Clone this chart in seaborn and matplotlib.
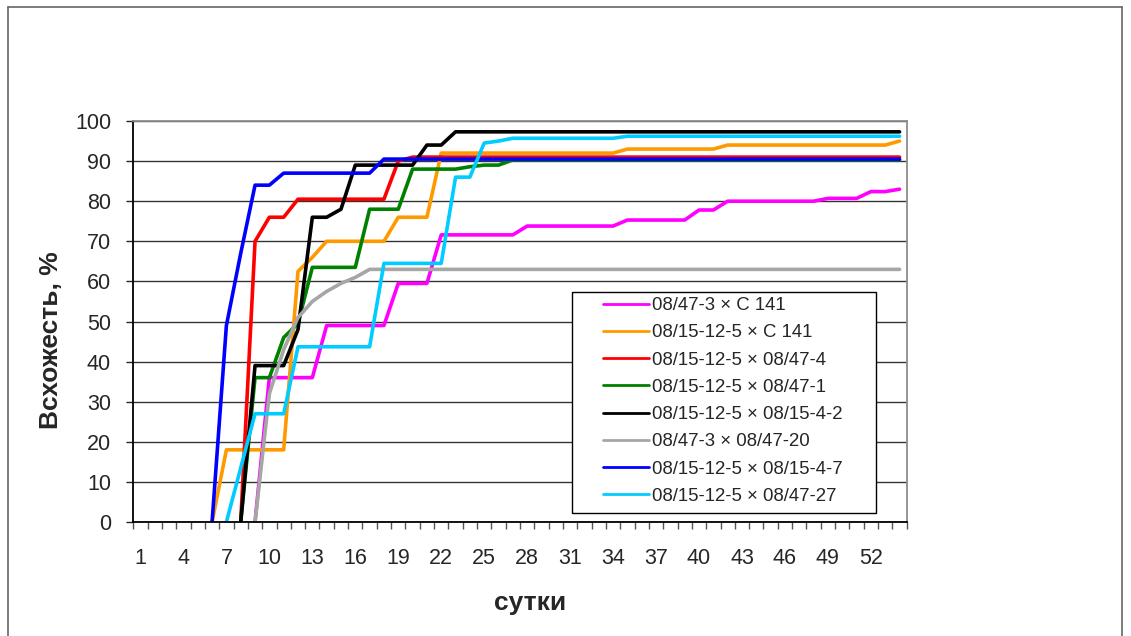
import matplotlib
matplotlib.use("Agg")
import matplotlib.pyplot as plt
import seaborn as sns
import pandas as pd
import numpy as np
from matplotlib.patches import Rectangle
from matplotlib.lines import Line2D

nan = np.nan

# Emergence (%) by day, eight crosses
days = list(range(1, 55))
xtick_days = [1, 4, 7, 10, 13, 16, 19, 22, 25, 28, 31, 34, 37, 40, 43, 46, 49, 52]

crosses = [
    "08/47-3 × C 141",
    "08/15-12-5 × C 141",
    "08/15-12-5 × 08/47-4",
    "08/15-12-5 × 08/47-1",
    "08/15-12-5 × 08/15-4-2",
    "08/47-3 × 08/47-20",
    "08/15-12-5 × 08/15-4-7",
    "08/15-12-5 × 08/47-27",
]
colors = ["#FF00FF", "#FF9900", "#FF0000", "#008000", "#000000", "#A6A6A6", "#0000FF", "#00CCFF"]

magenta = [nan, nan, nan, nan, nan, nan, nan, nan, 0, 36,
           36, 36, 36, 49, 49, 49, 49, 49, 59.5, 59.5,
           59.5, 71.6, 71.6, 71.6, 71.6, 71.6, 71.6, 73.8, 73.8, 73.8,
           73.8, 73.8, 73.8, 73.8, 75.3, 75.3, 75.3, 75.3, 75.3, 77.8,
           77.8, 80, 80, 80, 80, 80, 80, 80, 80.7, 80.7,
           80.7, 82.4, 82.4, 83]
orange = [nan, nan, nan, nan, nan, 0, 18, 18, 18, 18,
          18, 62.5, 66, 70, 70, 70, 70, 70, 76, 76,
          76, 92, 92, 92, 92, 92, 92, 92, 92, 92,
          92, 92, 92, 92, 93, 93, 93, 93, 93, 93,
          93, 94, 94, 94, 94, 94, 94, 94, 94, 94,
          94, 94, 94, 95]
red = [nan, nan, nan, nan, nan, nan, nan, 0, 70, 76,
       76, 80.5, 80.5, 80.5, 80.5, 80.5, 80.5, 80.5, 90, 91,
       91, 91, 91, 91, 91, 91, 91, 91, 91, 91,
       91, 91, 91, 91, 91, 91, 91, 91, 91, 91,
       91, 91, 91, 91, 91, 91, 91, 91, 91, 91,
       91, 91, 91, 91]
green = [nan, nan, nan, nan, nan, nan, nan, 0, 36, 36,
         46, 49.5, 63.5, 63.5, 63.5, 63.5, 78, 78, 78, 88,
         88, 88, 88, 88.6, 89, 89, 90.3, 90.3, 90.3, 90.3,
         90.3, 90.3, 90.3, 90.3, 90.3, 90.3, 90.3, 90.3, 90.3, 90.3,
         90.3, 90.3, 90.3, 90.3, 90.3, 90.3, 90.3, 90.3, 90.3, 90.3,
         90.3, 90.3, 90.3, 90.3]
black = [nan, nan, nan, nan, nan, nan, nan, 0, 39, 39,
         39, 48, 76, 76, 78, 89, 89, 89, 89, 89,
         94, 94, 97.3, 97.3, 97.3, 97.3, 97.3, 97.3, 97.3, 97.3,
         97.3, 97.3, 97.3, 97.3, 97.3, 97.3, 97.3, 97.3, 97.3, 97.3,
         97.3, 97.3, 97.3, 97.3, 97.3, 97.3, 97.3, 97.3, 97.3, 97.3,
         97.3, 97.3, 97.3, 97.3]
gray = [nan, nan, nan, nan, nan, nan, nan, nan, 0, 32,
        43, 51, 55, 57.5, 59.5, 61, 63, 63, 63, 63,
        63, 63, 63, 63, 63, 63, 63, 63, 63, 63,
        63, 63, 63, 63, 63, 63, 63, 63, 63, 63,
        63, 63, 63, 63, 63, 63, 63, 63, 63, 63,
        63, 63, 63, 63]
blue = [nan, nan, nan, nan, nan, 0, 49, 67, 84, 84,
        87, 87, 87, 87, 87, 87, 87, 90.5, 90.5, 90.5,
        90.5, 90.5, 90.5, 90.5, 90.5, 90.5, 90.5, 90.5, 90.5, 90.5,
        90.5, 90.5, 90.5, 90.5, 90.5, 90.5, 90.5, 90.5, 90.5, 90.5,
        90.5, 90.5, 90.5, 90.5, 90.5, 90.5, 90.5, 90.5, 90.5, 90.5,
        90.5, 90.5, 90.5, 90.5]
cyan = [nan, nan, nan, nan, nan, nan, 0, 13.5, 27, 27,
        27, 43.7, 43.7, 43.7, 43.7, 43.7, 43.7, 64.5, 64.5, 64.5,
        64.5, 64.5, 86, 86, 94.5, 95, 95.7, 95.7, 95.7, 95.7,
        95.7, 95.7, 95.7, 95.7, 96.2, 96.2, 96.2, 96.2, 96.2, 96.2,
        96.2, 96.2, 96.2, 96.2, 96.2, 96.2, 96.2, 96.2, 96.2, 96.2,
        96.2, 96.2, 96.2, 96.2]

values = [magenta, orange, red, green, black, gray, blue, cyan]

rows = []
for name, vals in zip(crosses, values):
    for d, v in zip(days, vals):
        rows.append({"day": d, "value": v, "cross": name})
df = pd.DataFrame(rows).dropna()

sns.set_style("ticks")
plt.rcParams["font.family"] = ["Liberation Sans", "DejaVu Sans"]

W, H = 1131, 636
fig = plt.figure(figsize=(W / 100, H / 100), dpi=100)
ax = fig.add_axes([133.3 / W, 1 - 522 / H, 773.4 / W, 401 / H])

sns.lineplot(data=df, x="day", y="value", hue="cross", hue_order=crosses,
             palette=dict(zip(crosses, colors)), linewidth=2.6,
             estimator=None, errorbar=None, ax=ax)

ax.set_xlim(0.5, 54.5)
ax.set_ylim(0, 100)
ax.set_yticks(np.arange(0, 101, 10))
ax.set_xticks(xtick_days)
ax.set_xticks(np.arange(0.5, 55, 1), minor=True)
ax.tick_params(axis="x", which="major", length=0, pad=19, labelsize=15.5)
ax.tick_params(axis="x", which="minor", length=5, width=1, color="#555555", direction="out")
ax.tick_params(axis="y", which="major", length=5, width=1, pad=11, labelsize=15.5)
ax.yaxis.grid(True, color="#333333", linewidth=1)
ax.set_axisbelow(True)
for s in ["left", "bottom"]:
    ax.spines[s].set_color("black")
    ax.spines[s].set_linewidth(1.3)
for s in ["top", "right"]:
    ax.spines[s].set_color("#8c8c8c")
    ax.spines[s].set_linewidth(1.3)

ax.set_xlabel("сутки", fontsize=19, fontweight="bold", va="center")
ax.xaxis.set_label_coords(0.513, -0.202)
ax.set_ylabel("Всхожесть, %", fontsize=19, fontweight="bold", va="center")
ax.yaxis.set_label_coords(-0.106, 0.454)

# legend box
ax.add_patch(Rectangle((572 / W, 1 - 513 / H), 304 / W, 221 / H, transform=fig.transFigure,
                       facecolor="white", edgecolor="black", linewidth=1, zorder=4, clip_on=False))
sns.move_legend(ax, "upper left", bbox_to_anchor=(603 / W, 1 - 297 / H),
                bbox_transform=fig.transFigure, title=None, frameon=False,
                fontsize=13.4, handlelength=2.45, handletextpad=0.2, labelspacing=0.55,
                borderpad=0, borderaxespad=0)
leg = ax.get_legend()
leg.set_zorder(5)
for h in leg.legend_handles:
    h.set_linewidth(2)

# outer frame
for xs, ys in [([8 / W, 8 / W], [0, 1 - 7 / H]), ([8 / W, 1122 / W], [1 - 7 / H, 1 - 7 / H]),
               ([1122 / W, 1122 / W], [0, 1 - 7 / H])]:
    fig.add_artist(Line2D(xs, ys, color="#666666", linewidth=1.2))

fig.savefig("out.png", dpi=100)
